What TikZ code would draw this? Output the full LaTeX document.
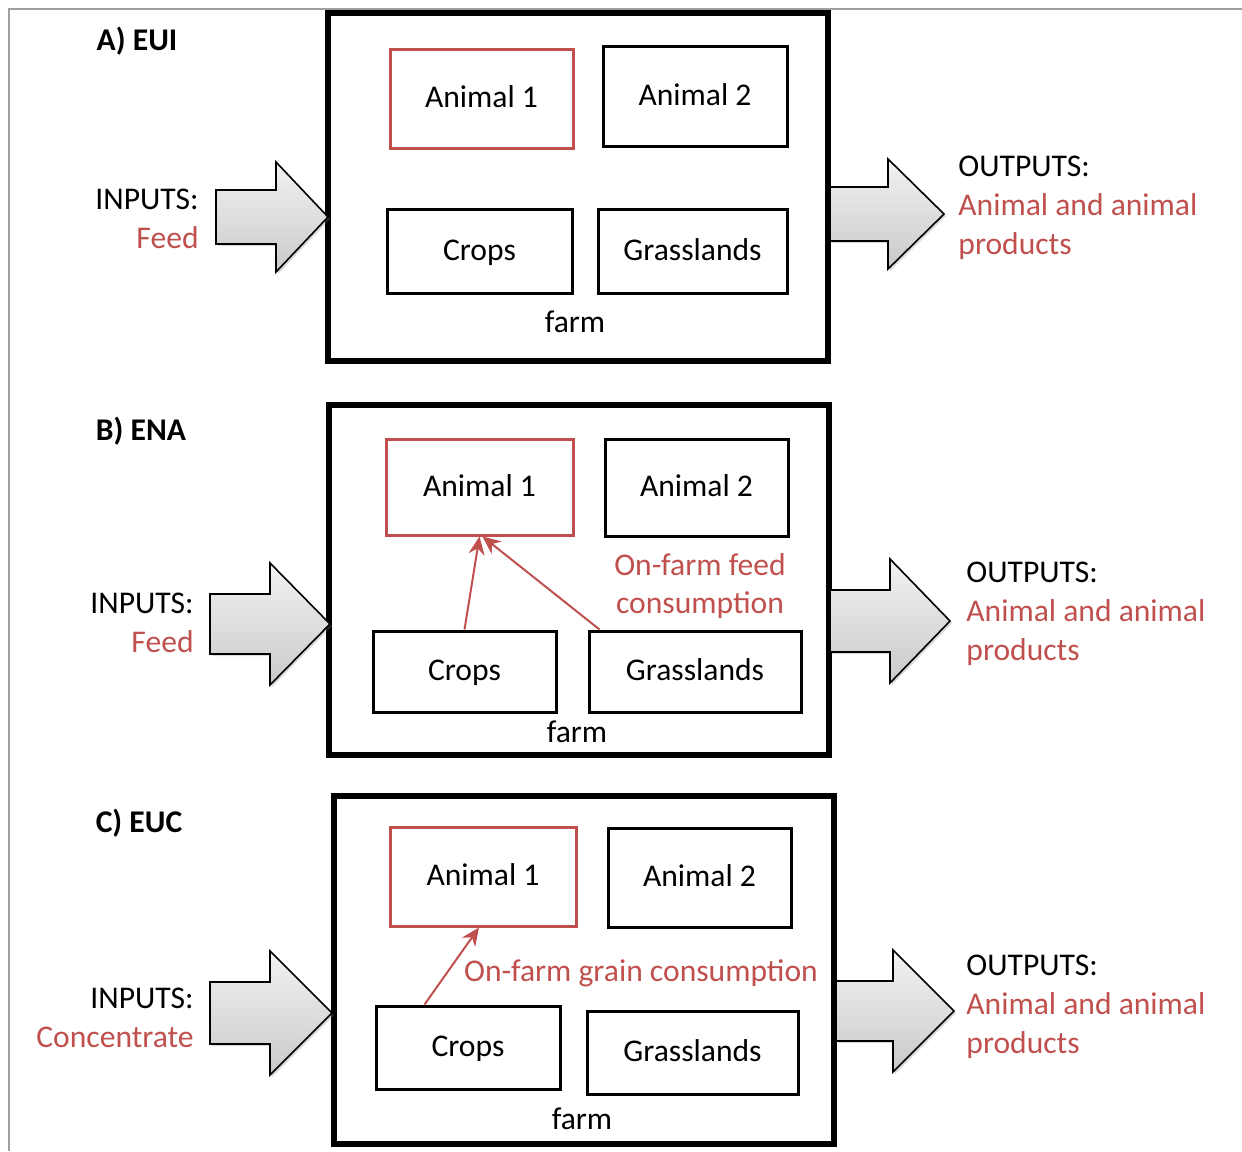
\documentclass[tikz,border=0pt]{standalone}
\usepackage{fontspec}
\setmainfont{Carlito}
\usetikzlibrary{fit,shadows,arrows.meta}
\definecolor{accent}{RGB}{192,80,77}
\tikzset{
  txt/.style={font=\fontsize{15.8}{19.4}\selectfont, inner sep=0pt},
  title/.style={txt, font=\fontsize{15.8}{19.4}\selectfont\bfseries},
  red text/.style={txt, text=accent},
  box/.style={draw, line width=1.5pt, inner sep=0pt},
  redbox/.style={box, draw=accent},
  farmbox/.style={draw, line width=2.6pt, inner sep=0pt},
  flow/.style={line width=0.8pt, draw=black, top color=gray!10, bottom color=gray!42,
    drop shadow={shadow xshift=1pt, shadow yshift=-1pt, opacity=0.3, fill=gray}},
  redarrow/.style={draw=accent, line width=1pt, -{Stealth[length=9pt,width=8pt]}},
  caption/.style={label={[txt, text height=10.5pt, text depth=1.5pt]center:#1}},
}
% block arrow: body left x, head base x, tip x, centre y, body half height, head half height
\newcommand{\flowarrow}[6]{%
  \path[flow] (#1,{#4-#5}) -- (#2,{#4-#5}) -- (#2,{#4-#6}) -- (#3,#4)
    -- (#2,{#4+#6}) -- (#2,{#4+#5}) -- (#1,{#4+#5}) -- cycle;}
\begin{document}
\begin{tikzpicture}[x=0.5pt,y=-0.5pt]
\useasboundingbox (0,0) rectangle (1242,1151);
% outer frame
\draw[gray!75, line width=1pt] (9,1151) -- (9,9) -- (1242,9);

% ---------- A) EUI ----------
\node[title] (tA) at (137,41) {A) EUI};
\node[farmbox, fit={(328,13) (828,361)}] (farmA) {};
\node[redbox, fit={(390,49) (573,148)}, caption=Animal 1] (anA1) {};
\node[box, fit={(603,46) (787,146)}, caption=Animal 2] (anA2) {};
\node[box, fit={(387,209) (572,293)}, caption=Crops] (crA) {};
\node[box, fit={(598,209) (787,293)}, caption=Grasslands] (grA) {};
\node[txt] (fA) at (575,322) {farm};
\flowarrow{216}{276}{328}{217}{27}{55}
\flowarrow{830}{888}{944}{214}{27}{55}
\node[txt, align=right, anchor=east] (inA) at (199,219) {INPUTS:\\\textcolor{accent}{Feed}};
\node[txt, align=left, anchor=west] (outA) at (958,208) {OUTPUTS:\\\textcolor{accent}{Animal and animal}\\\textcolor{accent}{products}};

% ---------- B) ENA ----------
\node[title] (tB) at (141,431) {B) ENA};
\node[farmbox, fit={(329,405) (829,755)}] (farmB) {};
\node[redbox, fit={(386,439) (573,535)}, caption=Animal 1] (anB1) {};
\node[box, fit={(605,439) (788,536)}, caption=Animal 2] (anB2) {};
\node[box, fit={(373,631) (556,712)}, caption=Crops] (crB) {};
\node[box, fit={(589,631) (801,712)}, caption=Grasslands] (grB) {};
\node[txt] (fB) at (577,732) {farm};
\flowarrow{210}{270}{330}{624}{30}{61}
\flowarrow{830}{890}{950}{621}{31}{62}
\node[txt, align=right, anchor=east] (inB) at (194,623) {INPUTS:\\\textcolor{accent}{Feed}};
\node[txt, align=left, anchor=west] (outB) at (966,614) {OUTPUTS:\\\textcolor{accent}{Animal and animal}\\\textcolor{accent}{products}};
\node[red text, align=center] (lbB) at (700,586) {On-farm feed\\consumption};
\draw[redarrow] (crB.north) -- (anB1.south);
\draw[redarrow] ([xshift=6pt]grB.north west) -- ([xshift=1.5pt]anB1.south);

% ---------- C) EUC ----------
\node[title] (tC) at (139,823) {C) EUC};
\node[farmbox, fit={(334,796) (834,1144)}] (farmC) {};
\node[redbox, fit={(390,827) (576,926)}, caption=Animal 1] (anC1) {};
\node[box, fit={(608,828) (791,927)}, caption=Animal 2] (anC2) {};
\node[box, fit={(376,1006) (560,1089)}, caption=Crops] (crC) {};
\node[box, fit={(587,1011) (798,1094)}, caption=Grasslands] (grC) {};
\node[txt] (fC) at (582,1119) {farm};
\flowarrow{210}{270}{332}{1013}{31}{62}
\flowarrow{836}{893}{954}{1011}{30}{61}
\node[txt, align=right, anchor=east] (inC) at (194,1018) {INPUTS:\\\textcolor{accent}{Concentrate}};
\node[txt, align=left, anchor=west] (outC) at (966,1007) {OUTPUTS:\\\textcolor{accent}{Animal and animal}\\\textcolor{accent}{products}};
\node[red text] (lbC) at (641,973) {On-farm grain consumption};
\draw[redarrow] ([xshift=25pt]crC.north west) -- ([xshift=-2pt]anC1.south);
\end{tikzpicture}
\end{document}
